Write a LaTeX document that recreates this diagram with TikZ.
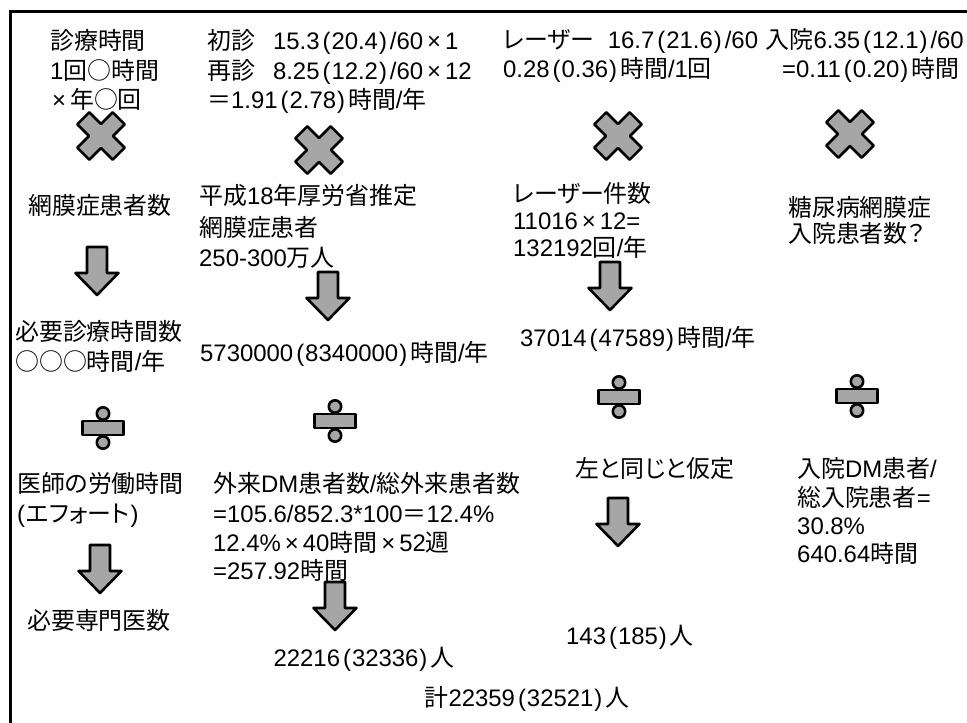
\documentclass[tikz,border=0pt]{standalone}
\usepackage{fontspec}
\setmainfont{Liberation Sans}
\newfontfamily\jpfont{Noto Sans CJK JP}[RawFeature={+palt}]
\XeTeXinterchartokenstate=1
\newXeTeXintercharclass\jpclass
\newcount\jpc
\def\setjprange#1#2{\jpc=#1\relax\loop\XeTeXcharclass\jpc=\jpclass\ifnum\jpc<#2\advance\jpc by 1\repeat}
\setjprange{"3000}{"30FF}
\setjprange{"4E00}{"9FFF}
\setjprange{"FF00}{"FFEF}
\XeTeXcharclass"25CB=\jpclass
\XeTeXinterchartoks 0 \jpclass = {\jpfont}
\XeTeXinterchartoks 4095 \jpclass = {\jpfont}
\XeTeXinterchartoks \jpclass 0 = {\rmfamily}
\XeTeXinterchartoks \jpclass 4095 = {\rmfamily}
\newcommand\myLP{\kern3bp(\kern1bp}
\newcommand\myRP{\kern1bp)\kern3bp}
\newcommand\myX{\kern4bp×\kern4bp}
\tikzset{
  txt/.style={inner sep=0pt, text height=21bp, text depth=3bp, font=\fontsize{24}{29}\selectfont},
  lt/.style={txt, anchor=west},
  rt/.style={txt, anchor=east},
  ct/.style={txt, anchor=center},
  symfill/.style={fill=black!35, draw=black, line width=2.6bp, line join=round},
  mulsign/.pic={\path[symfill, rotate=45] (25,8.5) -- (8.5,8.5) -- (8.5,25) -- (-8.5,25) -- (-8.5,8.5) -- (-25,8.5) -- (-25,-8.5) -- (-8.5,-8.5) -- (-8.5,-25) -- (8.5,-25) -- (8.5,-8.5) -- (25,-8.5) -- cycle;},
  downarrow/.pic={\path[symfill] (-10,-24) -- (10,-24) -- (10,2) -- (21.5,2) -- (0,24) -- (-21.5,2) -- (-10,2) -- cycle;},
  divsign/.pic={\path[symfill] (-20.5,-7) rectangle (20.5,7);
    \path[symfill] (0,-14.5) circle (6.2);
    \path[symfill] (0,14.5) circle (6.2);}
}
\begin{document}
\begin{tikzpicture}[x=1bp,y=-1bp]
\useasboundingbox (0,0) rectangle (967,723);
\fill[white] (0,0) rectangle (967,723);
\draw[line width=3bp] (10,723) -- (10,12) -- (967,12);
% column 1
\node[lt] (c1a) at (50,41) {診療時間};
\node[lt] (c1b) at (50,71) {1回○時間};
\node[lt] (c1c) at (50,100) {\kern-2bp\myX 年○回};
\pic (m1) at (101,136) {mulsign};
\node[ct] (c1d) at (100,205) {網膜症患者数};
\pic (a1) at (97,271) {downarrow};
\node[lt] (c1e) at (15,331) {必要診療時間数};
\node[lt] (c1f) at (15,361) {○○○時間/年};
\pic (d1) at (103,428) {divsign};
\node[lt] (c1g) at (17,483) {医師の労働時間};
\node[lt] (c1h) at (14,513) {\myLP エフォート\myRP};
\pic (a2) at (100,569) {downarrow};
\node[ct] (c1i) at (99,620) {必要専門医数};
% column 2
\node[lt] (c2a) at (207,41) {初診\hspace{18bp}15.3\myLP 20.4\myRP/60\myX 1};
\node[lt] (c2b) at (207,71) {再診\hspace{18bp}8.25\myLP 12.2\myRP/60\myX 12};
\node[lt] (c2c) at (207,100) {＝1.91\myLP 2.78\myRP 時間/年};
\pic (m2) at (319,150) {mulsign};
\node[lt] (c2d) at (199,195) {平成18年厚労省推定};
\node[lt] (c2e) at (199,227) {網膜症患者};
\node[lt] (c2f) at (199,257) {250-300万人};
\pic (a3) at (328,296) {downarrow};
\node[lt] (c2g) at (200,352) {5730000\myLP 8340000\myRP 時間/年};
\pic (d2) at (335,421) {divsign};
\node[lt] (c2h) at (213,483) {外来DM患者数/総外来患者数};
\node[lt] (c2i) at (213,513) {=105.6/852.3*100＝12.4\%};
\node[lt] (c2j) at (213,542) {12.4\%\myX 40時間\myX 52週};
\node[lt] (c2k) at (213,570) {=257.92時間};
\pic (a4) at (335,606) {downarrow};
\node[ct] (c2l) at (364,657) {22216\myLP 32336\myRP 人};
\node[ct] (tot) at (527,697) {計22359\myLP 32521\myRP 人};
% column 3
\node[lt] (c3a) at (503,40) {レーザー\hspace{14bp}16.7\myLP 21.6\myRP/60};
\node[lt] (c3b) at (503,69) {0.28\myLP 0.36\myRP 時間/1回};
\pic (m3) at (618,136) {mulsign};
\node[lt] (c3c) at (513,193) {レーザー件数};
\node[lt] (c3d) at (513,220) {11016\myX 12=};
\node[lt] (c3e) at (513,247) {132192回/年};
\pic (a5) at (610,286) {downarrow};
\node[lt] (c3f) at (520,337) {37014\myLP 47589\myRP 時間/年};
\pic (d3) at (619,397) {divsign};
\node[ct] (c3g) at (655,468) {左と同じと仮定};
\pic (a6) at (618,522) {downarrow};
\node[ct] (c3h) at (630,635) {143\myLP 185\myRP 人};
% column 4
\node[rt] (c4a) at (964,40) {入院6.35\myLP 12.1\myRP/60};
\node[lt] (c4b) at (782,69) {=0.11\myLP 0.20\myRP 時間};
\pic (m4) at (850,134) {mulsign};
\node[lt] (c4c) at (788,207) {糖尿病網膜症};
\node[lt] (c4d) at (788,233) {入院患者数？};
\pic (d4) at (857,396) {divsign};
\node[lt] (c4e) at (797,468) {入院DM患者/};
\node[lt] (c4f) at (797,497) {総入院患者=};
\node[lt] (c4g) at (797,525) {30.8\%};
\node[lt] (c4h) at (797,553) {640.64時間};
\end{tikzpicture}
\end{document}
